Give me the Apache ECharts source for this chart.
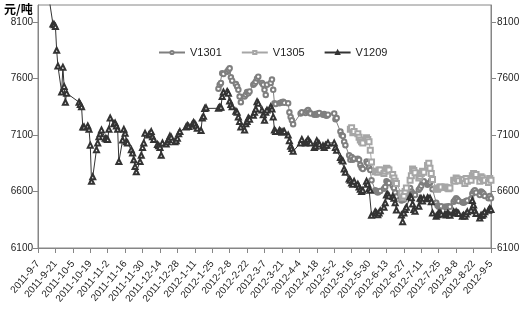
<!DOCTYPE html>
<html>
<head>
<meta charset="utf-8">
<script src="https://cdn.jsdelivr.net/npm/echarts@6/dist/echarts.min.js"></script>
<style>html,body{margin:0;padding:0;background:#fff;}#c{width:529px;height:315px;}</style>
</head>
<body>
<div id="c"></div>
<script>
// Axis range and tick labels
var startDate = '2011-9-7';
var endDate = '2012-9-5';
var tickDays = 14;
var yTicks = [6100, 6600, 7100, 7600, 8100];
// Exchange holidays (weekdays with no trading)
var holidays = ['2011-9-12','2011-10-3','2011-10-4','2011-10-5','2011-10-6','2011-10-7',
  '2012-1-2','2012-1-3','2012-1-23','2012-1-24','2012-1-25','2012-1-26','2012-1-27',
  '2012-4-2','2012-4-3','2012-4-4','2012-4-30','2012-5-1','2012-6-22'];

var seriesNames = ['V1301', 'V1305', 'V1209'];

// V1209, from 2011-9-7 (one value per trading day)
var v1209Start = '2011-9-7';
var v1209 = [
  8450, 8420, 8400, 8380, 8350, 8320, 8300, 8082, 8075, 8060, 7850, 7710, 7480, 7700, 7530, 7390, 7470,
  7390, 7370, 7350, 7170, 7170, 7180, 7150, 7010, 6690, 6730, 6970, 7030, 7085, 7110, 7145, 7070,
  7065, 7060, 7150, 7250, 7200, 7205, 7180, 7150, 6865, 7055, 7150, 7115, 7040, 7030, 6970, 6940, 6880, 6820, 6775, 6865, 6920, 6990,
  7030, 7115, 7100, 7110, 7130, 7085, 7060, 7015, 7005, 6990, 6920, 7030, 7020, 7040, 7060, 7090, 7080, 7040, 7050, 7070, 7110, 7130,
  7170, 7185, 7175, 7195, 7210, 7200, 7180, 7160, 7140, 7250, 7265, 7335, 7340, 7336, 7345,
  7345, 7440, 7480, 7485, 7470, 7400, 7370, 7350, 7310, 7300, 7260, 7220, 7170, 7145, 7200, 7220, 7250, 7240, 7275, 7300, 7330,
  7395, 7380, 7320, 7280, 7230, 7300, 7320, 7350, 7330, 7260, 7145, 7130, 7140, 7130, 7125, 7130, 7130, 7100, 7050, 7000, 6980, 6955,
  7030, 7060, 7030, 7040, 7060, 7040, 7030, 6990, 7000, 7050, 7030, 7020, 7005, 6990, 7010, 7010, 7030,
  7030, 6990, 6965, 6900, 6880, 6870, 6800, 6770, 6710, 6700, 6675, 6665, 6690, 6665, 6640, 6620, 6600, 6610, 6690, 6665, 6625, 6610,
  6390, 6420, 6410, 6395, 6410, 6430, 6460, 6500, 6570, 6575, 6560, 6555, 6540, 6500, 6436, 6392, 6333, 6410, 6440, 6460,
  6555, 6545, 6490, 6440, 6425, 6470, 6540, 6535, 6515, 6540, 6545, 6535, 6540, 6510, 6410, 6380, 6395, 6405, 6410, 6400, 6400, 6392,
  6405, 6400, 6390, 6420, 6410, 6420, 6410, 6405, 6380, 6390, 6380, 6400, 6420, 6435, 6520, 6480, 6430, 6405, 6365, 6390, 6390, 6400, 6420,
  6435, 6450, 6440
];

// V1301, from 2012-1-30
var v1301Start = '2012-1-30';
var v1301 = [
  7510, 7545,
  7560, 7646, 7640, 7660, 7675, 7690, 7610, 7580, 7550, 7530, 7500, 7440, 7390, 7440, 7455, 7480, 7470, 7485, 7545, 7555, 7570,
  7600, 7616, 7560, 7545, 7500, 7454, 7545, 7560, 7590, 7500, 7380, 7375, 7380, 7385, 7390, 7395, 7385, 7380, 7300, 7260, 7230, 7195,
  7290, 7300, 7295, 7310, 7320, 7300, 7290, 7280, 7285, 7280, 7290, 7295, 7280, 7285, 7275, 7270, 7280,
  7290, 7240, 7250, 7130, 7100, 7090, 7040, 7010, 6920, 6880, 6905, 6880, 6890, 6890, 6880, 6835, 6810, 6800, 6865, 6850, 6810, 6790,
  6700, 6610, 6600, 6590, 6600, 6605, 6625, 6640, 6690, 6680, 6675, 6650, 6630, 6590, 6555, 6520, 6525, 6530, 6560, 6590,
  6630, 6600, 6585, 6575, 6570, 6615, 6630, 6650, 6680, 6690, 6660, 6670, 6680, 6700, 6620, 6500, 6475, 6465, 6465, 6470, 6465, 6465,
  6465, 6470, 6465, 6510, 6525, 6540, 6530, 6515, 6505, 6500, 6510, 6515, 6520, 6535, 6580, 6600, 6610, 6590, 6570, 6600, 6590, 6580, 6560,
  6540, 6560, 6540
];

// V1305, from 2012-5-15
var v1305Start = '2012-5-15';
var v1305 = [
  7150, 7165, 7120, 7130, 7110, 7080, 7055, 7040, 7030, 7075, 7060, 7040, 6965,
  6860, 6775, 6780, 6770, 6790, 6790, 6760, 6780, 6805, 6800, 6790, 6750, 6720, 6690, 6670, 6585, 6545, 6560, 6600, 6630,
  6700, 6740, 6800, 6785, 6765, 6720, 6735, 6760, 6780, 6770, 6830, 6850, 6805, 6760, 6705, 6625, 6620, 6630, 6640, 6640, 6640, 6635,
  6630, 6625, 6630, 6700, 6690, 6720, 6710, 6695, 6700, 6705, 6670, 6715, 6690, 6700, 6740, 6760, 6740, 6750, 6690, 6730, 6720, 6700, 6700,
  6680, 6715, 6700
];

function parseD(s) { var p = s.split('-'); return Date.UTC(+p[0], +p[1] - 1, +p[2]); }
var DAY = 86400000;
var t0 = parseD(startDate), t1 = parseD(endDate);
var hol = {};
holidays.forEach(function (h) { hol[parseD(h)] = true; });
var tradingDays = [];
for (var t = t0; t <= t1; t += DAY) {
  var wd = new Date(t).getUTCDay();
  if (wd === 0 || wd === 6 || hol[t]) continue;
  tradingDays.push(Math.round((t - t0) / DAY));
}
function build(startStr, vals) {
  var sd = Math.round((parseD(startStr) - t0) / DAY);
  var i0 = tradingDays.indexOf(sd);
  return vals.map(function (v, i) { return [tradingDays[i0 + i], v]; });
}
function fmtDay(d) {
  var dt = new Date(t0 + d * DAY);
  return dt.getUTCFullYear() + '-' + (dt.getUTCMonth() + 1) + '-' + dt.getUTCDate();
}
var totalDays = Math.round((t1 - t0) / DAY);

var axisColor = '#868686';
var labelStyle = { color: '#222', fontFamily: 'Liberation Sans', fontSize: 10 };
function plain(v) { return String(v); }

var chart = echarts.init(document.getElementById('c'), null, { renderer: 'canvas' });
chart.setOption({
  animation: false,
  backgroundColor: '#fff',
  grid: { left: 38, right: 38, top: 5, bottom: 67, show: true, borderColor: axisColor, borderWidth: 1 },
  legend: {
    left: 153, top: 42, itemWidth: 26, itemHeight: 4, itemGap: 19,
    textStyle: { color: '#222', fontFamily: 'Liberation Sans', fontSize: 11 },
    data: seriesNames
  },
  graphic: [{ type: 'text', left: 4, top: 3, style: { text: '元/吨', font: 'bold 12px "Noto Sans CJK SC"', fill: '#000' } }],
  xAxis: {
    type: 'value', min: 0, max: totalDays, interval: tickDays,
    axisLine: { lineStyle: { color: axisColor } },
    axisTick: { lineStyle: { color: axisColor }, length: 5 },
    splitLine: { show: false },
    axisLabel: Object.assign({ rotate: 50, margin: 14, formatter: function (v) { return fmtDay(v); } }, labelStyle)
  },
  yAxis: [{
    type: 'value', min: 6100, max: 8250, interval: 500, position: 'left',
    axisLine: { show: true, lineStyle: { color: axisColor } },
    axisTick: { show: true, length: 5, lineStyle: { color: axisColor }, customValues: yTicks },
    splitLine: { show: false },
    axisLabel: Object.assign({ margin: 5, customValues: yTicks, formatter: plain }, labelStyle)
  }, {
    type: 'value', min: 6100, max: 8250, interval: 500, position: 'right',
    axisLine: { show: true, lineStyle: { color: axisColor } },
    axisTick: { show: true, length: 5, lineStyle: { color: axisColor }, customValues: yTicks },
    splitLine: { show: false },
    axisLabel: Object.assign({ margin: 6, customValues: yTicks, formatter: plain }, labelStyle)
  }],
  series: [{
    name: 'V1301', type: 'line', data: build(v1301Start, v1301),
    symbol: 'emptyCircle', symbolSize: 4.5,
    itemStyle: { color: '#7f7f7f', borderWidth: 1 },
    lineStyle: { color: '#7f7f7f', width: 1 }
  }, {
    name: 'V1305', type: 'line', data: build(v1305Start, v1305),
    symbol: 'emptyRect', symbolSize: 5,
    itemStyle: { color: '#a6a6a6', borderWidth: 1 },
    lineStyle: { color: '#a6a6a6', width: 1 }
  }, {
    name: 'V1209', type: 'line', data: build(v1209Start, v1209),
    symbol: 'emptyTriangle', symbolSize: 5,
    itemStyle: { color: '#333333', borderWidth: 1 },
    lineStyle: { color: '#333333', width: 1 }
  }]
});
</script>
</body>
</html>
